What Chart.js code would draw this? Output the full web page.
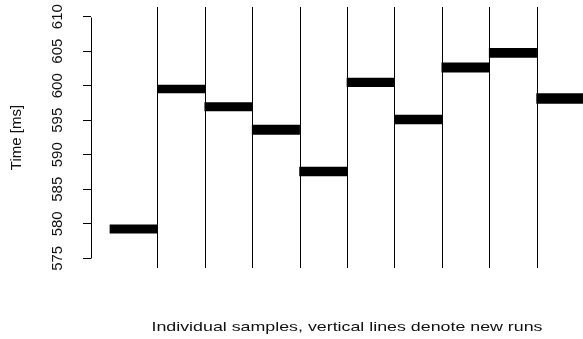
<!DOCTYPE html>
<html>
<head>
<meta charset="utf-8">
<script src="https://cdn.jsdelivr.net/npm/chart.js@4/dist/chart.umd.min.js"></script>
<style>
  html, body { margin: 0; padding: 0; background: #fff; overflow: hidden; width: 583px; height: 339px; }
  #c { display: block; }
</style>
</head>
<body>
<canvas id="c" width="620" height="339"></canvas>
<script>
// ---- data ----
const runNames   = ['Run 1','Run 2','Run 3','Run 4','Run 5','Run 6','Run 7','Run 8','Run 9','Run 10'];
const runStart   = [0, 1000, 2000, 3000, 4000, 5000, 6000, 7000, 8000, 9000];   // first sample index of each run
const runEnd     = [1000, 2000, 3000, 4000, 5000, 6000, 7000, 8000, 9000, 10000];
const runLow     = [578.65, 598.95, 596.35, 592.95, 586.95, 599.85, 594.45, 601.95, 604.1, 597.45];  // lower edge of sample band (ms)
const runHigh    = [579.85, 600.1, 597.55, 594.3, 588.2, 601.1, 595.75, 603.3, 605.4, 598.85]; // upper edge of sample band (ms)
const runBreaks  = [1000, 2000, 3000, 4000, 5000, 6000, 7000, 8000, 9000];      // vertical lines: new runs
const yTickVals  = [575, 580, 585, 590, 595, 600, 605, 610];
const yTickLabels= ['575','580','585','590','595','600','605','610'];
const yTitle = 'Time [ms]';
const xTitle = 'Individual samples, vertical lines denote new runs';

const FONT = '"Liberation Sans", Arial, Helvetica, sans-serif';

const bandData = runNames.map((n, i) => ({ x: (runStart[i] + runEnd[i]) / 2, y: [runLow[i], runHigh[i]] }));

const rPlot = {
  id: 'rPlot',
  beforeDatasetsDraw(chart) {
    const { ctx, chartArea, scales: { x } } = chart;
    ctx.save();
    ctx.strokeStyle = '#000';
    ctx.lineWidth = 1;
    runBreaks.forEach(b => {
      const px = Math.round(x.getPixelForValue(b)) + 0.5;
      ctx.beginPath();
      ctx.moveTo(px, chartArea.top);
      ctx.lineTo(px, chartArea.bottom);
      ctx.stroke();
    });
    ctx.restore();
  },
  afterDraw(chart) {
    const { ctx, chartArea, scales: { y } } = chart;
    ctx.save();
    // y axis line between first and last tick
    const ax = chartArea.left + 0.5;
    ctx.strokeStyle = '#000';
    ctx.lineWidth = 1;
    ctx.beginPath();
    ctx.moveTo(ax, Math.round(y.getPixelForValue(yTickVals[0])) + 0.5);
    ctx.lineTo(ax, Math.round(y.getPixelForValue(yTickVals[yTickVals.length - 1])) + 0.5);
    ctx.stroke();
    // rotated tick labels
    ctx.fillStyle = '#111';
    ctx.font = '15px ' + FONT;
    ctx.textAlign = 'center';
    ctx.textBaseline = 'alphabetic';
    yTickVals.forEach((v, i) => {
      const py = y.getPixelForValue(v);
      ctx.save();
      ctx.translate(62, py);
      ctx.rotate(-Math.PI / 2);
      ctx.fillText(yTickLabels[i], 0, 0);
      ctx.restore();
    });
    // x axis title (wide lettering as in reference)
    ctx.font = '13px ' + FONT;
    ctx.textBaseline = 'middle';
    const w = ctx.measureText(xTitle).width;
    const cx = (chartArea.left + chartArea.right) / 2;
    ctx.translate(cx, 327);
    ctx.scale(391 / w, 1);
    ctx.fillText(xTitle, 0, 0);
    ctx.restore();
  }
};

new Chart(document.getElementById('c'), {
  type: 'bar',
  data: {
    datasets: [{
      label: 'Samples',
      data: bandData,
      backgroundColor: '#000',
      borderWidth: 0,
      barPercentage: 1.0,
      categoryPercentage: 1.0
    }]
  },
  options: {
    responsive: false,
    animation: false,
    devicePixelRatio: 1,
    layout: { padding: { top: 7, right: 17, left: 0, bottom: 0 } },
    plugins: { legend: { display: false }, tooltip: { enabled: false } },
    scales: {
      x: {
        type: 'linear',
        min: -400,
        max: 10400,
        offset: false,
        ticks: { display: false },
        grid: { display: false },
        border: { display: false },
        afterFit(s) { s.height = 71; }
      },
      y: {
        type: 'linear',
        min: 573.6,
        max: 611.4,
        afterBuildTicks(s) { s.ticks = yTickVals.map(v => ({ value: v })); },
        ticks: { display: false },
        grid: { drawOnChartArea: false, drawTicks: true, tickLength: 8, color: '#000', lineWidth: 1 },
        border: { display: false },
        title: {
          display: true,
          text: yTitle,
          color: '#111',
          font: { family: FONT, size: 15 },
          padding: { top: 8, bottom: 0 }
        },
        afterFit(s) { s.width = 91; }
      }
    }
  },
  plugins: [rPlot]
});
</script>
</body>
</html>
